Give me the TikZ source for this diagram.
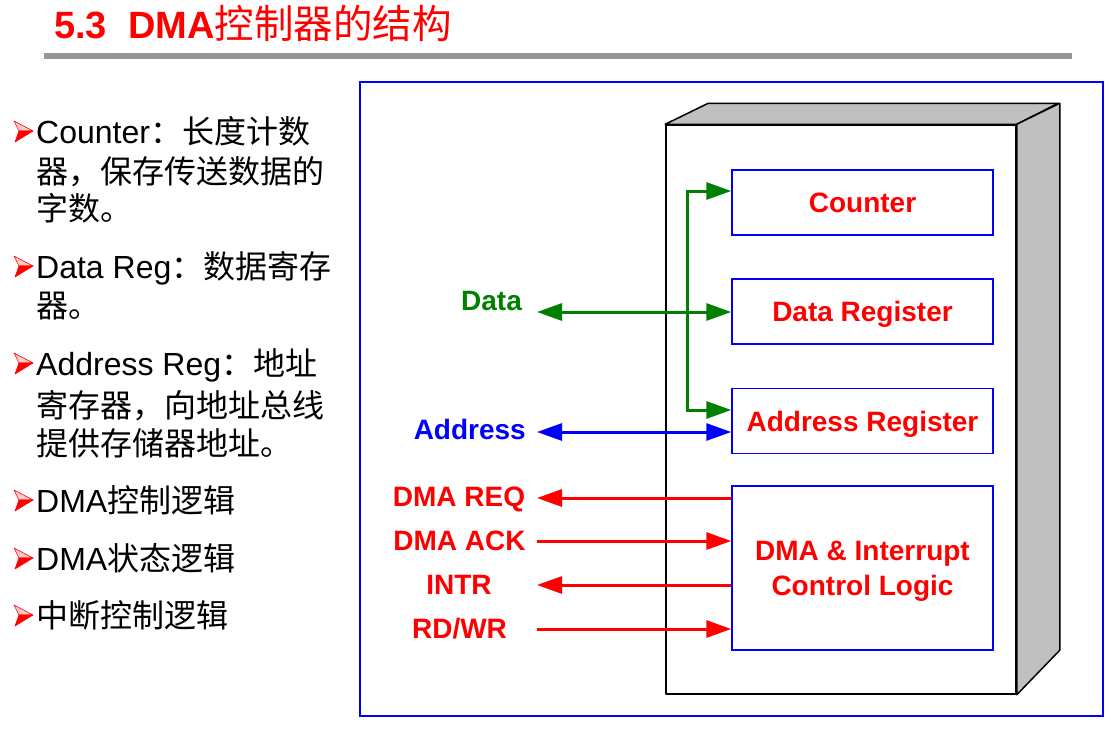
\documentclass[tikz,border=0pt]{standalone}
\usepackage{fontspec}
\setmainfont{Liberation Sans}
\newfontfamily\cjk{Noto Sans CJK SC}
\usetikzlibrary{arrows.meta}
\definecolor{tline}{RGB}{150,150,150}
\definecolor{sidegray}{RGB}{192,192,192}
\definecolor{dgreen}{RGB}{0,128,0}
\begin{document}
\begin{tikzpicture}[x=1pt,y=-1pt,
  titletext/.style={anchor=base west,inner sep=0pt,text=red,font=\fontsize{38}{40}\selectfont\bfseries},
  bodytext/.style={anchor=base west,inner sep=0pt,font=\fontsize{32}{38}\selectfont},
  bulletarrow/.pic={
    \filldraw[red,fill=red!20,line width=0.6pt,line join=round] (0,0) -- (19,10) -- (5,10) -- cycle;
    \filldraw[red,line width=0.6pt,line join=round] (5,10) -- (19,10) -- (1,21) -- cycle;
  },
  regbox/.style={draw=blue,line width=1.5pt,fill=white,minimum width=261pt,minimum height=65pt,
     text=red,font=\fontsize{28}{35}\selectfont\bfseries,inner sep=0pt,text height=20pt,text depth=0pt},
  sig/.style={font=\fontsize{28}{32}\selectfont\bfseries,anchor=base,inner sep=0pt},
  bus/.style={line width=3pt},
  tip/.tip={Triangle[length=25pt,width=17pt]},
  frameline/.style={draw=black,line width=1.5pt,line join=round}
]
\useasboundingbox (0,0) rectangle (1111,731);

% title
\node[titletext] (title) at (54,38) {5.3\ \ DMA{\cjk\mdseries\fontsize{39.5}{40}\selectfont 控制器的结构}};
\fill[tline] (44,53) rectangle (1072,59);

% left text
\pic at (14,121) {bulletarrow};
\node[bodytext] (t1) at (36,143) {Counter{\cjk ：长度计数}};
\node[bodytext] (t2) at (36,183) {\cjk 器，保存传送数据的};
\node[bodytext] (t3) at (36,220) {\cjk 字数。};
\pic at (14,256) {bulletarrow};
\node[bodytext] (t4) at (36,278) {Data Reg{\cjk ：数据寄存}};
\node[bodytext] (t5) at (36,317) {\cjk 器。};
\pic at (14,353) {bulletarrow};
\node[bodytext] (t6) at (36,375) {Address Reg{\cjk ：地址}};
\node[bodytext] (t7) at (36,417) {\cjk 寄存器，向地址总线};
\node[bodytext] (t8) at (36,455) {\cjk 提供存储器地址。};
\pic at (14,490) {bulletarrow};
\node[bodytext] (t9) at (36,512) {DMA{\cjk 控制逻辑}};
\pic at (14,548) {bulletarrow};
\node[bodytext] (t10) at (36,570) {DMA{\cjk 状态逻辑}};
\pic at (14,605) {bulletarrow};
\node[bodytext] (t11) at (36,627) {\cjk 中断控制逻辑};

% outer frame
\node[draw=blue,line width=2pt,minimum width=743pt,minimum height=634pt,inner sep=0pt] (frame) at (731.5,399) {};

% 3D box
\node[frameline,fill=white,minimum width=350pt,minimum height=569pt,inner sep=0pt] (chip) at (841,409.5) {};
\filldraw[frameline,fill=sidegray] (chip.north west) -- ++(43,-21) -- ++(350,0) -- (chip.north east) -- cycle;
\filldraw[frameline,fill=sidegray] (chip.north east) -- ++(43,-21) -- ++(0,547) -- (chip.south east) -- cycle;

% registers
\node[regbox] (counter) at (862.5,202.5) {Counter};
\node[regbox] (datareg) at (862.5,311.5) {Data Register};
\node[regbox] (addrreg) at (862.5,421) {Address Register};
\node[regbox,minimum height=164pt,
  label={[yshift=-3pt,text=red,font=\fontsize{28}{35}\selectfont\bfseries,align=center,inner sep=0pt]center:DMA \& Interrupt\\Control Logic}]
  (dmalogic) at (862.5,568) {};

% signal labels
\node[sig,text=dgreen] (ldata) at (491.5,310) {Data};
\node[sig,text=blue,anchor=base east] (laddr) at (526,439.5) {Address};
\node[sig,text=red] (lreq) at (459,506) {DMA REQ};
\node[sig,text=red] (lack) at (459.5,550) {DMA ACK};
\node[sig,text=red] (lintr) at (459,594) {INTR};
\node[sig,text=red] (lrdwr) at (459.5,638) {RD/WR};

% connector end points
\coordinate (gtop) at (687,191);
\coordinate (gbot) at (687,410);
\coordinate (pdata) at (537,312);
\coordinate (paddr) at (537,432);
\coordinate (preq) at (537,498);
\coordinate (pack) at (537,541);
\coordinate (pintr) at (537,585);
\coordinate (prdwr) at (537,629);

% data bus
\draw[bus,dgreen,-tip] (gbot) -- (gtop) -- (gtop -| counter.west);
\draw[bus,dgreen,-tip] (gtop) -- (gbot) -- (gbot -| addrreg.west);
\draw[bus,dgreen,tip-tip] (pdata) -- (pdata -| datareg.west);
% address bus
\draw[bus,blue,tip-tip] (paddr) -- (paddr -| addrreg.west);
% control signals
\draw[bus,red,tip-] (preq) -- (preq -| dmalogic.west);
\draw[bus,red,-tip] (pack) -- (pack -| dmalogic.west);
\draw[bus,red,tip-] (pintr) -- (pintr -| dmalogic.west);
\draw[bus,red,-tip] (prdwr) -- (prdwr -| dmalogic.west);
\end{tikzpicture}
\end{document}
